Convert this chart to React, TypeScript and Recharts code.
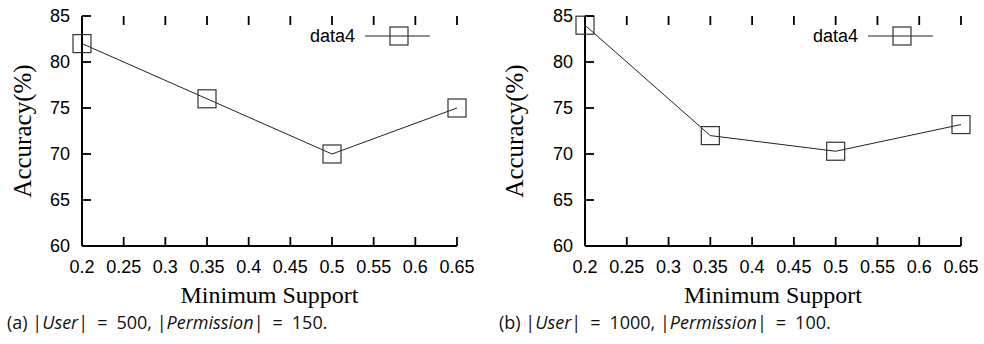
import { LineChart, Line, XAxis, YAxis } from "recharts";

const minSupport = [0.2, 0.35, 0.5, 0.65];
const accuracyA = [82, 76, 70, 75];
const accuracyB = [84, 72, 70.3, 73.2];
const xTicks = [0.2, 0.25, 0.3, 0.35, 0.4, 0.45, 0.5, 0.55, 0.6, 0.65];
const yTicks = [60, 65, 70, 75, 80, 85];
const seriesName = "data4";

const SANS = "'Liberation Sans', Arial, sans-serif";
const SERIF = "'Liberation Serif', 'Times New Roman', serif";
const CHART_W = 492;
const CHART_H = 290;
const M_TOP = 16;
const M_BOTTOM = 14;
const XAXIS_H = 30;
const PLOT_H = CHART_H - M_TOP - M_BOTTOM - XAXIS_H;
const TICK_LEN = 9;
const X_GAP = 14;
const Y_GAP = 12;

const Square = (props: any) => {
  const { cx, cy, index } = props;
  if (cx == null || cy == null) return <g key={index} />;
  return <rect key={index} x={cx - 9} y={cy - 9} width={18} height={18} fill="none" stroke="#333" strokeWidth={1.2} />;
};

// inward ticks on bottom and mirrored on top, labels below the box
const BottomTick = (props: any) => {
  const { x, y, payload } = props;
  const axisY = y - X_GAP;
  const topY = axisY - PLOT_H;
  return (
    <g>
      <line x1={x} y1={axisY} x2={x} y2={axisY - TICK_LEN} stroke="#000" strokeWidth={1.8} />
      <line x1={x} y1={topY} x2={x} y2={topY + TICK_LEN} stroke="#000" strokeWidth={1.8} />
      <text x={x} y={y} dy="0.72em" textAnchor="middle" fontSize={18} fontFamily={SANS} fill="#000">{payload.value}</text>
    </g>
  );
};

const LeftTick = (props: any) => {
  const { x, y, payload } = props;
  const axisX = x + Y_GAP;
  return (
    <g>
      <line x1={axisX} y1={y} x2={axisX + TICK_LEN} y2={y} stroke="#000" strokeWidth={1.8} />
      <text x={x} y={y} dy="0.36em" textAnchor="end" fontSize={18} fontFamily={SANS} fill="#000">{payload.value}</text>
    </g>
  );
};

interface PanelProps {
  values: number[];
  left: number;
  marginLeft: number;
  marginRight: number;
  legendLeft: number;
  caption: [string, string, string];
}

const eq = <span style={{ margin: "0 9px" }}>=</span>;

function Panel({ values, left, marginLeft, marginRight, legendLeft, caption }: PanelProps) {
  const data = minSupport.map((x, i) => ({ x, acc: values[i] }));
  const plotLeft = left + marginLeft + 50;
  const plotRight = left + CHART_W - marginRight;
  return (
    <>
      <div style={{ position: "absolute", left, top: 0 }}>
        <LineChart width={CHART_W} height={CHART_H} data={data} margin={{ top: M_TOP, right: marginRight, left: marginLeft, bottom: M_BOTTOM }}>
          <XAxis xAxisId="top" orientation="top" dataKey="x" type="number" domain={[0.2, 0.65]} ticks={xTicks}
            height={0} tickLine={false} tick={false} stroke="#000" axisLine={{ strokeWidth: 2 }} />
          <XAxis dataKey="x" type="number" domain={[0.2, 0.65]} ticks={xTicks} interval={0} height={XAXIS_H}
            tickSize={0} tickMargin={X_GAP} tickLine={false} tick={BottomTick} stroke="#000" axisLine={{ strokeWidth: 2 }} />
          <YAxis type="number" domain={[60, 85]} ticks={yTicks} interval={0} width={50}
            tickSize={0} tickMargin={Y_GAP} tickLine={false} tick={LeftTick} stroke="#000" axisLine={{ strokeWidth: 2 }} />
          <YAxis yAxisId="right" orientation="right" type="number" domain={[60, 85]} ticks={yTicks} width={0}
            tickLine={false} tick={false} stroke="#000" axisLine={{ strokeWidth: 2 }} />
          <Line dataKey="acc" stroke="#222" strokeWidth={1} dot={Square} activeDot={false} isAnimationActive={false} />
        </LineChart>
      </div>
      <div style={{ position: "absolute", left: left + 22, top: 131, width: 0, height: 0 }}>
        <div style={{ position: "absolute", left: 0, top: 0, transform: "translate(-50%, -50%) rotate(-90deg)", whiteSpace: "nowrap", fontFamily: SERIF, fontSize: 25, lineHeight: "25px" }}>
          Accuracy(%)
        </div>
      </div>
      <div style={{ position: "absolute", left: plotLeft, width: plotRight - plotLeft, top: 283, textAlign: "center", fontFamily: SERIF, fontSize: 24, lineHeight: "24px", whiteSpace: "nowrap" }}>
        Minimum Support
      </div>
      <div style={{ position: "absolute", left: legendLeft, top: 25, display: "flex", alignItems: "center", height: 22 }}>
        <span style={{ fontFamily: SANS, fontSize: 18, lineHeight: "22px" }}>{seriesName}</span>
        <svg width={70} height={22} style={{ marginLeft: 10 }}>
          <line x1={0} y1={11} x2={65} y2={11} stroke="#222" strokeWidth={1} />
          <rect x={25} y={2} width={18} height={18} fill="none" stroke="#333" strokeWidth={1.2} />
        </svg>
      </div>
      <div style={{ position: "absolute", left: left + 7, top: 311, fontFamily: "'Open Sans', Lato, sans-serif", fontSize: 18, lineHeight: "22px", whiteSpace: "nowrap", color: "#111" }}>
        {caption[0]}|<i>User</i>|{eq}{caption[1]}, |<i>Permission</i>|{eq}{caption[2]}.
      </div>
    </>
  );
}

export default function App() {
  return (
    <div style={{ position: "absolute", left: 0, top: 0, width: 984, height: 344, background: "#fff" }}>
      <Panel values={accuracyA} left={0} marginLeft={32} marginRight={35} legendLeft={310} caption={["(a) ", "500", "150"]} />
      <Panel values={accuracyB} left={492} marginLeft={43} marginRight={23} legendLeft={813} caption={["(b) ", "1000", "100"]} />
    </div>
  );
}
